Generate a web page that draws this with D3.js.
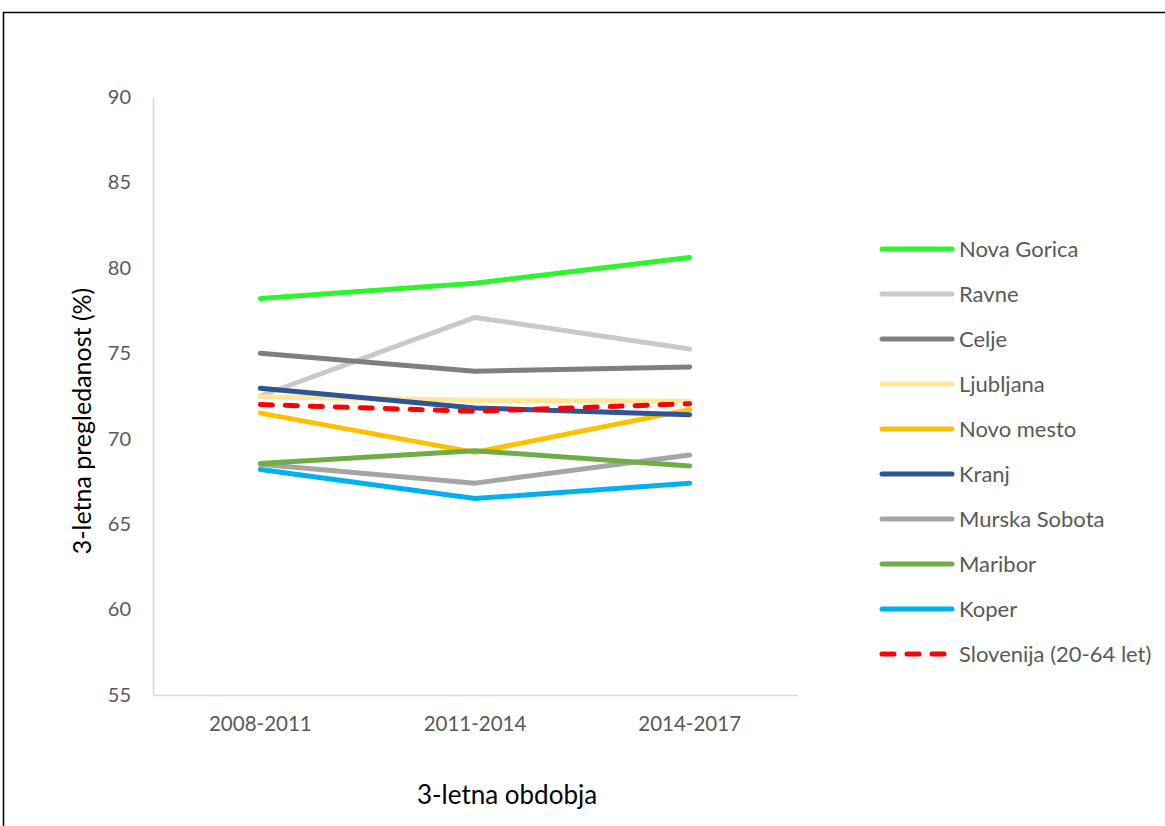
<!DOCTYPE html>
<html>
<head>
<meta charset="utf-8">
<script src="https://cdn.jsdelivr.net/npm/d3@7"></script>
<style>
  body { margin: 0; background: #fff; }
  svg { display: block; }
</style>
</head>
<body>
<svg class="chart"></svg>
<script>
// Data
var periods = ["2008-2011", "2011-2014", "2014-2017"];
var regions = ["Nova Gorica", "Ravne", "Celje", "Ljubljana", "Novo mesto",
               "Kranj", "Murska Sobota", "Maribor", "Koper", "Slovenija (20-64 let)"];
var novaGorica   = [78.2, 79.1, 80.6];
var ravne        = [72.5, 77.1, 75.25];
var celje        = [75.0, 73.95, 74.2];
var ljubljana    = [72.45, 72.25, 72.2];
var novoMesto    = [71.5, 69.2, 71.7];
var kranj        = [72.95, 71.8, 71.4];
var murskaSobota = [68.5, 67.4, 69.05];
var maribor      = [68.55, 69.3, 68.4];
var koper        = [68.2, 66.5, 67.4];
var slovenija    = [72.0, 71.6, 72.05];
var yTicks = [55, 60, 65, 70, 75, 80, 85, 90];

var seriesValues = [novaGorica, ravne, celje, ljubljana, novoMesto,
                    kranj, murskaSobota, maribor, koper, slovenija];

// Styles
var colors = ["#2df52d", "#c9c9c9", "#7f7f7f", "#ffe699", "#ffc000",
              "#2f5597", "#a5a5a5", "#70ad47", "#00b0f0", "#ff0000"];
var dashed = [false, false, false, false, false, false, false, false, false, true];

// draw order: back to front (as in the original)
var drawOrder = [0, 1, 2, 3, 4, 6, 7, 8, 5, 9];

var w = 1165, h = 826;
var svg = d3.select(".chart").attr("width", w).attr("height", h);

// outer frame
svg.append("rect")
    .attr("x", 3.5).attr("y", 12.5)
    .attr("width", w + 20).attr("height", h + 20)
    .attr("fill", "none").attr("stroke", "#000").attr("stroke-width", 1.5);

var plot = { left: 153, right: 797, top: 97, bottom: 695 };

var x = d3.scaleBand()
    .domain(periods)
    .range([plot.left, plot.right]);

var y = d3.scaleLinear()
    .domain([55, 90])
    .range([plot.bottom, plot.top]);

var font = "Lato, 'Open Sans', sans-serif";

// y axis
var yAxis = d3.axisLeft(y).tickValues(yTicks).tickSize(0).tickPadding(22);
var gy = svg.append("g")
    .attr("transform", "translate(" + plot.left + ",0)")
    .call(yAxis);
gy.select(".domain").attr("stroke", "#d9d9d9").attr("stroke-width", 1.5);
gy.selectAll("text")
    .attr("fill", "#595959")
    .style("font-family", font)
    .style("font-size", "20px");

// x axis
var xAxis = d3.axisBottom(x).tickSize(0).tickPadding(21);
var gx = svg.append("g")
    .attr("transform", "translate(0," + plot.bottom + ")")
    .call(xAxis);
gx.select(".domain").attr("stroke", "#d9d9d9").attr("stroke-width", 1.5);
gx.selectAll("text")
    .attr("fill", "#595959")
    .style("font-family", font)
    .style("font-size", "20.5px");

// axis titles
svg.append("text")
    .attr("transform", "translate(91," + ((plot.top + plot.bottom) / 2 + 25) + ") rotate(-90)")
    .attr("text-anchor", "middle")
    .style("font-family", font)
    .style("font-size", "25px")
    .attr("fill", "#000")
    .text("3-letna pregledanost (%)");

svg.append("text")
    .attr("x", 507).attr("y", 804)
    .attr("text-anchor", "middle")
    .style("font-family", font)
    .style("font-size", "26px")
    .attr("fill", "#000")
    .text("3-letna obdobja");

// lines
var line = d3.line()
    .x(function(d, i) { return x(periods[i]) + x.bandwidth() / 2; })
    .y(function(d) { return y(d); });

drawOrder.forEach(function(k) {
    svg.append("path")
        .datum(seriesValues[k])
        .attr("fill", "none")
        .attr("stroke", colors[k])
        .attr("stroke-width", 5)
        .attr("stroke-linejoin", "round")
        .attr("stroke-linecap", "round")
        .attr("stroke-dasharray", dashed[k] ? "12,13" : null)
        .attr("d", line);
});

// legend
var legend = svg.append("g").attr("transform", "translate(882,249)");
regions.forEach(function(name, k) {
    var row = legend.append("g").attr("transform", "translate(0," + (k * 45) + ")");
    row.append("line")
        .attr("x1", 0).attr("x2", dashed[k] ? 66 : 70)
        .attr("y1", 0).attr("y2", 0)
        .attr("stroke", colors[k])
        .attr("stroke-width", 5)
        .attr("stroke-linecap", "round")
        .attr("stroke-dasharray", dashed[k] ? "12,13" : null);
    row.append("text")
        .attr("x", 77).attr("y", 0)
        .attr("dy", "0.35em")
        .attr("fill", "#595959")
        .style("font-family", font)
        .style("font-size", "22px")
        .text(name);
});
</script>
</body>
</html>
